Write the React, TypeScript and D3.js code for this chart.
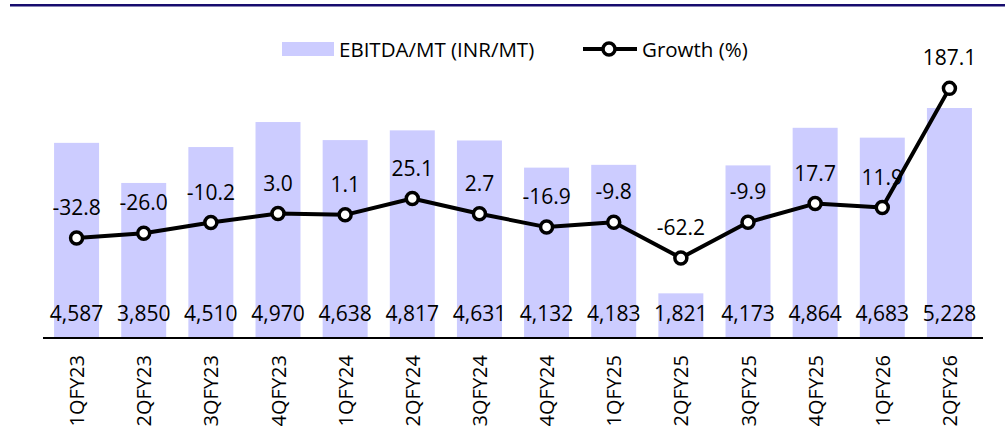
import React from "react";
import * as d3 from "d3";

const categories = ["1QFY23","2QFY23","3QFY23","4QFY23","1QFY24","2QFY24","3QFY24","4QFY24","1QFY25","2QFY25","3QFY25","4QFY25","1QFY26","2QFY26"];
const ebitda = [4587,3850,4510,4970,4638,4817,4631,4132,4183,1821,4173,4864,4683,5228];
const growth = [-32.8,-26.0,-10.2,3.0,1.1,25.1,2.7,-16.9,-9.8,-62.2,-9.9,17.7,11.9,187.1];

const W = 1008, H = 439;
const FONT = "'Open Sans', sans-serif";

export default function App() {
  const x = d3.scaleBand<string>().domain(categories).range([43, 983]).paddingInner(0.33).paddingOuter(0.165);
  const yBar = d3.scaleLinear().domain([1000, 6000]).range([338, 66]);
  const yLine = d3.scaleLinear().domain([-180, 220]).range([338, 66]);
  const cx = (c: string) => (x(c) as number) + x.bandwidth() / 2;
  const line = d3.line<number>().x((_, i) => cx(categories[i])).y(d => yLine(d));
  const fmt = d3.format(",");

  return (
    <svg width={W} height={H} style={{ position: "absolute", left: 0, top: 0, background: "#fff" }} fontFamily={FONT}>
      <rect x={10} y={4} width={995} height={2.5} fill="#170C6E" />
      {/* legend */}
      <rect x={282} y={42} width={52} height={14} fill="#CCCCFF" />
      <text x={339} y={49} dominantBaseline="central" fontSize={20.5} fill="#000">EBITDA/MT (INR/MT)</text>
      <line x1={583} x2={637} y1={49} y2={49} stroke="#000" strokeWidth={4} />
      <circle cx={609} cy={49} r={6} fill="#fff" stroke="#000" strokeWidth={3.5} />
      <text x={642} y={49} dominantBaseline="central" fontSize={20.5} fill="#000">Growth (%)</text>

      {categories.map((c, i) => (
        <rect key={c} x={x(c)} y={yBar(ebitda[i])} width={x.bandwidth()} height={338 - yBar(ebitda[i])} fill="#CCCCFF" />
      ))}
      {categories.map((c, i) => (
        <text key={"bl" + c} x={cx(c)} y={313} textAnchor="middle" dominantBaseline="central" fontSize={21} fill="#000">{fmt(ebitda[i])}</text>
      ))}
      <line x1={43} x2={983} y1={338} y2={338} stroke="#000" strokeWidth={2} />
      {categories.map(c => (
        <text key={"cl" + c} transform={`translate(${cx(c)},355) rotate(-90)`} textAnchor="end" dominantBaseline="central" fontSize={20} fill="#000">{c}</text>
      ))}
      <path d={line(growth) as string} fill="none" stroke="#000" strokeWidth={4} strokeLinejoin="round" />
      {categories.map((c, i) => (
        <circle key={"m" + c} cx={cx(c)} cy={yLine(growth[i])} r={6} fill="#fff" stroke="#000" strokeWidth={3.5} />
      ))}
      {categories.map((c, i) => (
        <text key={"gl" + c} x={cx(c)} y={yLine(growth[i]) - 31} textAnchor="middle" dominantBaseline="central" fontSize={21} fill="#000">{growth[i].toFixed(1)}</text>
      ))}
    </svg>
  );
}
